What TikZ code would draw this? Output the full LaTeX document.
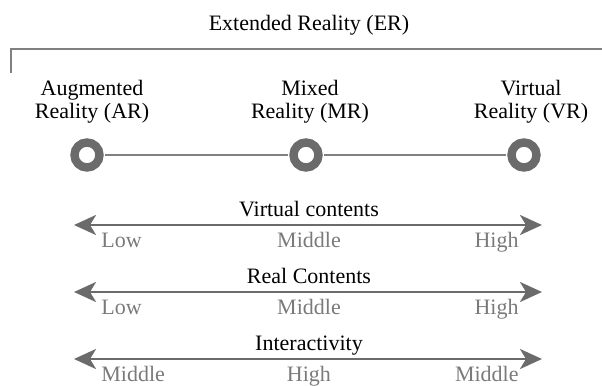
\documentclass[tikz,border=0pt]{standalone}
\usepackage{fontspec}
\setmainfont{Liberation Serif}
\usetikzlibrary{arrows.meta}
\definecolor{ringgray}{HTML}{6B6B6B}
\definecolor{linegray}{HTML}{808080}
\definecolor{labelgray}{HTML}{7A7A7A}
\tikzset{
  heading/.style={font=\fontsize{11}{11.5}\selectfont, inner sep=0pt, anchor=base},
  level/.style={heading, text=labelgray},
  ring/.style={circle, draw=ringgray, line width=4.2pt, minimum size=12.5pt, inner sep=0pt, outer sep=2.8pt},
  scalearrow/.style={draw=ringgray, line width=1.4pt, {Stealth[length=11pt,width=10pt,inset=3pt]}-{Stealth[length=11pt,width=10pt,inset=3pt]}}
}

\begin{document}
\begin{tikzpicture}[x=0.5pt, y=-0.5pt]
    \useasboundingbox (0,0) rectangle (602,386);

    % top bracket
    \node[heading] (er) at (309, 30) {Extended Reality (ER)};
    \draw[linegray, line width=1pt] (11, 73) -- (11, 49) -- (602, 49);

    % the three realities
    \node[heading, anchor=center, align=center] (ar) at (92, 101.5) {Augmented\\Reality (AR)};
    \node[heading, anchor=center, align=center] (mr) at (310, 101.5) {Mixed\\Reality (MR)};
    \node[heading, anchor=center, align=center] (vr) at (531, 101.5) {Virtual\\Reality (VR)};

    \node[ring] (car) at (87, 155) {};
    \node[ring] (cmr) at (306, 155) {};
    \node[ring] (cvr) at (524, 155) {};
    \draw[linegray, line width=1pt] (car) -- (cmr);
    \draw[linegray, line width=1pt] (cmr) -- (cvr);

    % virtual contents
    \coordinate (vcl) at (74, 225);
    \coordinate (vcr) at (542, 225);
    \draw[scalearrow] (vcl) -- (vcr);
    \node[heading] (vc) at (309, 216) {Virtual contents};
    \node[level, anchor=base west] (vclow) at (101, 247) {Low};
    \node[level] (vcmid) at (309, 247) {Middle};
    \node[level, anchor=base east] (vchigh) at (519, 247) {High};

    % real contents
    \coordinate (rcl) at (74, 292);
    \coordinate (rcr) at (542, 292);
    \draw[scalearrow] (rcl) -- (rcr);
    \node[heading] (rc) at (309, 283) {Real Contents};
    \node[level, anchor=base west] (rclow) at (101, 314) {Low};
    \node[level] (rcmid) at (309, 314) {Middle};
    \node[level, anchor=base east] (rchigh) at (519, 314) {High};

    % interactivity
    \coordinate (itl) at (74, 359);
    \coordinate (itr) at (542, 359);
    \draw[scalearrow] (itl) -- (itr);
    \node[heading] (it) at (309, 350) {Interactivity};
    \node[level, anchor=base west] (itleft) at (101, 381) {Middle};
    \node[level] (itmid) at (309, 381) {High};
    \node[level, anchor=base east] (itright) at (519, 381) {Middle};
\end{tikzpicture}
\end{document}
